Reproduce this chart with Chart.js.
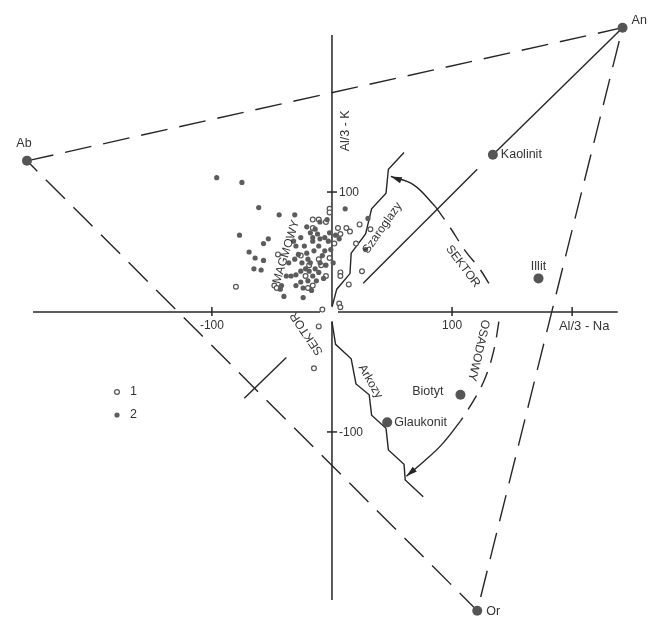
<!DOCTYPE html>
<html><head><meta charset="utf-8">
<style>html,body{margin:0;padding:0;background:#fff}canvas{display:block}</style>
<script src="https://cdn.jsdelivr.net/npm/chart.js@4.4.1/dist/chart.umd.min.js"></script>
</head><body>
<canvas id="c" width="660" height="622"></canvas>
<script>
// Reference minerals (Al/3 - Na, Al/3 - K)
const mineralNames = ['Ab', 'An', 'Or', 'Kaolinit', 'Illit', 'Biotyt', 'Glaukonit'];
const mineralX = [-254, 242, 121, 134, 172, 107, 46];
const mineralY = [126, 237, -249, 131, 28, -69, -92];

// Samples, group 1 (open circles)
const group1X = [-80, -45, -16, -11, -5, -2, -2, -16, 23, 32, 12, 15, 7, 20, -2, 25, 7, 7, 14, 6, 7, -8, -48, -46, -11, -9, -19, -22, -5, -16, -20, -26, 2, 5, -11, -15];
const group1Y = [21, 48, 77, 77, 75, 86, 83, 70, 73, 69, 70, 67, 65, 57, 45, 34, 33, 30, 23, 7, 4, 2, 22, 20, 44, 39, 39, 30, 30, 22, 20, 47, 57, 70, -12, -47];

// Samples, group 2 (filled circles)
const group2X = [-96, -75, -61, -44, -31, -77, -53, -57, -69, -64, -57, -65, -59, -40, -24, -38, -34, -30, -31, -28, -32,
  -18, -16, -16, -14, -12, -11, -10, -15, -23, -21, -20, -18, -25, -22, -26, -19, -16, -14, -11, -10, -8, -6, -3, -2, -6, -1, -5, -7, -13, -20, -26, -24, -17, -30, -10, -4, 3, 6, 1, -30, -36, -26, -21, -42, -43,
  11, 30, 28];
const group2Y = [112, 108, 87, 81, 81, 64, 61, 57, 50, 45, 43, 36, 35, 13, 12, 30, 30, 31, 44, 48, 59,
  66, 62, 59, 69, 65, 55, 61, 51, 55, 49, 44, 41, 41, 36, 34, 34, 30, 36, 33, 41, 47, 51, 59, 66, 62, 52, 39, 28, 26, 26, 25, 20, 18, 22, 75, 77, 64, 61, 41, 55, 41, 62, 71, 22, 19,
  86, 78, 52];

// Boundary of the greywacke field (Szarogłazy)
const szaroglazyX = [0, 4, 15, 16, 28, 33, 45, 47, 60];
const szaroglazyY = [4, 19, 32, 49, 65, 86, 99, 119, 133];
// Boundary of the arkose field (Arkozy)
const arkozyX = [0, 3, 16, 20, 31, 33, 45, 47, 60, 61, 76];
const arkozyY = [-8, -27, -39, -60, -69, -86, -97, -115, -127, -140, -154];

// Sector boundary along the An direction
const anLineX = [242, 134];
const anLineY = [237, 131];
const sectorLineX = [121, 26];
const sectorLineY = [119, 24];
const magmaLineX = [-38, -73];
const magmaLineY = [-38, -72];

// Sedimentary sector arc (upper arrow part solid, middle dashed, lower arrow part solid)
const arcTopSolidX = [49, 68, 86];
const arcTopSolidY = [113, 106, 88];
const arcTopDashX = [86, 98, 111, 123, 133];
const arcTopDashY = [88, 71, 51, 36, 20];
const arcLowDashX = [139, 135, 128, 119, 107];
const arcLowDashY = [-8, -31, -54, -72, -91];
const arcLowSolidX = [107, 91, 76, 62];
const arcLowSolidY = [-91, -111, -125, -137];

// Axes
const xAxisLeftX = [-249, -10];
const xAxisRightX = [5, 238];
const yAxisUpY = [5, 231];
const yAxisDownY = [-8, -240];
const xTicks = [-100, 100, 200];
const xTickLabels = ['-100', '100', ''];
const yTicks = [100, -100];
const yTickLabels = ['100', '-100'];

const pts = (xs, ys) => xs.map((x, i) => ({ x, y: ys[i] }));
const INK = '#262626';

function lineSet(xs, ys, opts) {
  return Object.assign({
    type: 'scatter', showLine: true, data: pts(xs, ys),
    borderColor: INK, borderWidth: 1.4, pointRadius: 0, fill: false, tension: 0
  }, opts || {});
}

const triangleX = [mineralX[0], mineralX[1], mineralX[2], mineralX[0]];
const triangleY = [mineralY[0], mineralY[1], mineralY[2], mineralY[0]];

const datasets = [
  { label: 'minerals', data: pts(mineralX, mineralY), pointRadius: 5, pointBackgroundColor: '#555', pointBorderWidth: 0, showLine: false },
  { label: '2', data: pts(group2X, group2Y), pointRadius: 2.6, pointBackgroundColor: '#5c5c5c', pointBorderColor: '#5c5c5c', pointBorderWidth: 0, showLine: false },
  { label: '1', data: pts(group1X, group1Y), pointRadius: 2.4, pointBackgroundColor: '#fff', pointBorderColor: '#555', pointBorderWidth: 1.2, showLine: false },
  lineSet(triangleX, triangleY, { borderDash: [27, 12] }),
  lineSet(szaroglazyX, szaroglazyY),
  lineSet(arkozyX, arkozyY),
  lineSet(anLineX, anLineY),
  lineSet(sectorLineX, sectorLineY),
  lineSet(magmaLineX, magmaLineY),
  lineSet(arcTopSolidX, arcTopSolidY, { tension: 0.4, arrowStart: true }),
  lineSet(arcTopDashX, arcTopDashY, { tension: 0.4, borderDash: [16, 10] }),
  lineSet(arcLowDashX, arcLowDashY, { tension: 0.4, borderDash: [16, 10] }),
  lineSet(arcLowSolidX, arcLowSolidY, { tension: 0.4, arrowEnd: true }),
  lineSet(xAxisLeftX, [0, 0], { borderWidth: 1.5 }),
  lineSet(xAxisRightX, [0, 0], { borderWidth: 1.5 }),
  lineSet([0, 0], yAxisUpY, { borderWidth: 1.5 }),
  lineSet([0, 0], yAxisDownY, { borderWidth: 1.5 })
];

const FONT = '"Liberation Sans", Arial, sans-serif';

function txt(ctx, s, x, y, deg, align, size) {
  ctx.save();
  ctx.translate(x, y);
  ctx.rotate((deg || 0) * Math.PI / 180);
  ctx.font = (size || 12) + 'px ' + FONT;
  ctx.fillStyle = '#333';
  ctx.textAlign = align || 'center';
  ctx.textBaseline = 'middle';
  ctx.fillText(s, 0, 0);
  ctx.restore();
}

// Text placed in value space: [text, x, y, rotation, align, size]
const regionLabels = [
  ['Szaroglazy', 42, 70, -55, 'center', 12],
  ['SEKTOR', 109, 38, 53, 'center', 12],
  ['OSADOWY', 122, -32, 103, 'center', 12],
  ['Arkozy', 32, -58, 60, 'center', 12],
  ['MAGMOWY', -38, 50, -73, 'center', 12],
  ['SEKTOR', -21, -18, -124, 'center', 12],
  ['Al/3 - Na', 189, -12, 0, 'left', 13],
  ['Al/3 - K', 11, 151, -90, 'center', 12.5]
];
// Label offsets (px) around the mineral points
const mineralLabelOffset = [[-3, -17, 'center'], [9, -7, 'left'], [9, 1, 'left'], [8, 0, 'left'], [0, -12, 'center'], [-17, -3, 'right'], [7, 0, 'left']];

const decor = {
  id: 'decor',
  afterDatasetsDraw(chart) {
    const ctx = chart.ctx, sx = chart.scales.x, sy = chart.scales.y;
    const X = v => sx.getPixelForValue(v), Y = v => sy.getPixelForValue(v);
    ctx.save();
    ctx.strokeStyle = INK; ctx.lineWidth = 1.5;
    xTicks.forEach((t, i) => {
      ctx.beginPath(); ctx.moveTo(X(t), Y(0) - 5); ctx.lineTo(X(t), Y(0) + 4); ctx.stroke();
      if (xTickLabels[i]) txt(ctx, xTickLabels[i], X(t), Y(0) + 14, 0, 'center', 12);
    });
    yTicks.forEach((t, i) => {
      ctx.beginPath(); ctx.moveTo(X(0) - 5, Y(t)); ctx.lineTo(X(0) + 5, Y(t)); ctx.stroke();
      txt(ctx, yTickLabels[i], X(0) + 7, Y(t) + 1, 0, 'left', 12);
    });
    regionLabels.forEach(l => txt(ctx, l[0], X(l[1]), Y(l[2]), l[3], l[4], l[5]));
    mineralNames.forEach((n, i) => {
      const o = mineralLabelOffset[i];
      txt(ctx, n, X(mineralX[i]) + o[0], Y(mineralY[i]) + o[1], 0, o[2], 12.5);
    });
    // arrow heads
    chart.data.datasets.forEach((ds, i) => {
      if (!ds.arrowStart && !ds.arrowEnd) return;
      const el = chart.getDatasetMeta(i).data;
      const a = ds.arrowStart ? el[0] : el[el.length - 1];
      const b = ds.arrowStart ? el[1] : el[el.length - 2];
      const ang = Math.atan2(a.y - b.y, a.x - b.x);
      ctx.save();
      ctx.translate(a.x, a.y); ctx.rotate(ang);
      ctx.fillStyle = INK;
      ctx.beginPath(); ctx.moveTo(0, 0); ctx.lineTo(-11, -3.2); ctx.lineTo(-11, 3.2); ctx.closePath(); ctx.fill();
      ctx.restore();
    });
    // legend
    const lx = 117, ly1 = 392, ly2 = 415;
    ctx.beginPath(); ctx.arc(lx, ly1, 2.4, 0, Math.PI * 2);
    ctx.fillStyle = '#fff'; ctx.fill(); ctx.lineWidth = 1.2; ctx.strokeStyle = '#555'; ctx.stroke();
    ctx.beginPath(); ctx.arc(lx, ly2, 2.6, 0, Math.PI * 2); ctx.fillStyle = '#5c5c5c'; ctx.fill();
    txt(ctx, '1', lx + 13, ly1, 0, 'left', 12.5);
    txt(ctx, '2', lx + 13, ly2, 0, 'left', 12.5);
    ctx.restore();
  }
};

const PX_PER_UNIT = 1.22;
new Chart(document.getElementById('c'), {
  type: 'scatter',
  data: { datasets },
  options: {
    responsive: false, animation: false,
    layout: { padding: 0 },
    plugins: { legend: { display: false }, tooltip: { enabled: false } },
    scales: {
      x: { type: 'linear', display: false, min: -332 / PX_PER_UNIT, max: 328 / PX_PER_UNIT },
      y: { type: 'linear', display: false, min: -310 / PX_PER_UNIT, max: 312 / PX_PER_UNIT }
    }
  },
  plugins: [decor]
});
</script>
</body></html>
